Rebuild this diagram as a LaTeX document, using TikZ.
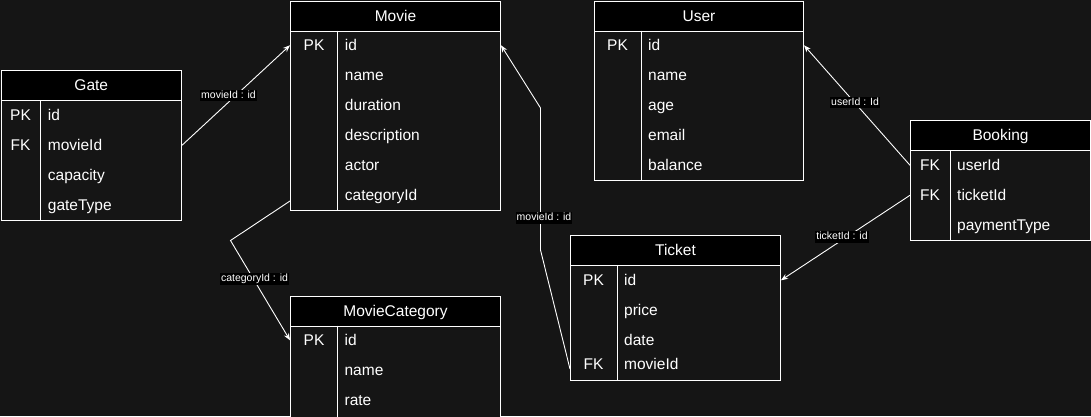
\documentclass[tikz,border=0pt]{standalone}
\usepackage{fontspec}
\setmainfont{Liberation Sans}
\usetikzlibrary{arrows.meta}
\definecolor{bgc}{HTML}{151515}
\tikzset{
 tline/.style={draw=white, line width=1pt},
 tbl/.style={tline, fill=bgc, anchor=north west, inner sep=0pt},
 hdr/.style={tline, fill=black, anchor=north west, inner sep=0pt, minimum height=30pt, text=white, text height=11.1pt, text depth=0.5pt, font=\fontsize{15.5}{18}\selectfont},
 keyt/.style={text=white, inner sep=0pt, anchor=base, yshift=-5.6pt, font=\fontsize{15.5}{18}\selectfont},
 attr/.style={text=white, anchor=base west, yshift=-5.6pt, inner sep=0pt, font=\fontsize{15.5}{18}\selectfont},
 conn/.style={draw=white!88, line width=0.9pt, -{Stealth[length=7pt,width=5.5pt]}},
 lbl/.style={fill=black, text=white, font=\fontsize{10.5}{12}\selectfont, text height=7.8pt, text depth=2pt, inner xsep=1pt, inner ysep=1pt},
}
\begin{document}
\begin{tikzpicture}[x=1pt,y=-1pt]
\fill[bgc] (0,0) rectangle (1091,416);
\useasboundingbox (0,0) rectangle (1091,416);
\clip (0,0) rectangle (1091,416);

% Gate
\node[tbl, minimum width=180.5pt, minimum height=150pt] (gate) at (0.5,70) {};
\node[hdr, minimum width=180.5pt] (gateh) at (0.5,70) {Gate};
\draw[tline] (40.7,100) -- (40.7,220);
\node[keyt] (gk1) at (20.5,115) {PK};
\node[keyt] (gk2) at (20.5,145) {FK};
\node[attr] (ga1) at (47.7,115) {id};
\node[attr] (ga2) at (47.7,145) {movieId};
\node[attr] (ga3) at (47.7,175) {capacity};
\node[attr] (ga4) at (47.7,205) {gateType};

% Movie
\node[tbl, minimum width=210pt, minimum height=209.5pt] (movie) at (290,0.5) {};
\node[hdr, minimum width=210pt] (movieh) at (290,0.5) {Movie};
\draw[tline] (337.7,30.5) -- (337.7,210);
\node[keyt] (mk1) at (314,45) {PK};
\node[attr] (ma1) at (344.7,45) {id};
\node[attr] (ma2) at (344.7,75) {name};
\node[attr] (ma3) at (344.7,105) {duration};
\node[attr] (ma4) at (344.7,135) {description};
\node[attr] (ma5) at (344.7,165) {actor};
\node[attr] (ma6) at (344.7,195) {categoryId};

% User
\node[tbl, minimum width=209pt, minimum height=179.5pt] (user) at (594,0.5) {};
\node[hdr, minimum width=209pt] (userh) at (594,0.5) {User};
\draw[tline] (641,30.5) -- (641,180);
\node[keyt] (uk1) at (617.5,45) {PK};
\node[attr] (ua1) at (648,45) {id};
\node[attr] (ua2) at (648,75) {name};
\node[attr] (ua3) at (648,105) {age};
\node[attr] (ua4) at (648,135) {email};
\node[attr] (ua5) at (648,165) {balance};

% Booking
\node[tbl, minimum width=180pt, minimum height=120pt] (booking) at (910,120) {};
\node[hdr, minimum width=180pt] (bookingh) at (910,120) {Booking};
\draw[tline] (950,150) -- (950,240);
\node[keyt] (bk1) at (930,165) {FK};
\node[keyt] (bk2) at (930,195) {FK};
\node[attr] (ba1) at (957,165) {userId};
\node[attr] (ba2) at (957,195) {ticketId};
\node[attr] (ba3) at (957,225) {paymentType};

% Ticket
\node[tbl, minimum width=210pt, minimum height=145pt] (ticket) at (570,235) {};
\node[hdr, minimum width=210pt] (ticketh) at (570,235) {Ticket};
\draw[tline] (617,265) -- (617,380);
\node[keyt] (tk1) at (593.5,280) {PK};
\node[keyt] (tk2) at (593.5,364) {FK};
\node[attr] (ta1) at (624,280) {id};
\node[attr] (ta2) at (624,310) {price};
\node[attr] (ta3) at (624,340) {date};
\node[attr] (ta4) at (624,364) {movieId};

% MovieCategory
\node[tbl, minimum width=210pt, minimum height=140pt] (mc) at (290,295.5) {};
\node[hdr, minimum width=210pt] (mch) at (290,295.5) {MovieCategory};
\draw[tline] (337.4,325.5) -- (337.4,436);
\node[keyt] (ck1) at (314,340) {PK};
\node[attr] (ca1) at (344.4,340) {id};
\node[attr] (ca2) at (344.4,370) {name};
\node[attr] (ca3) at (344.4,400) {rate};

% Connectors
\draw[conn] (gate.east |- gk2) -- (movie.west |- mk1)
  node[lbl, at={(228.5,95.5)}] {movieId : id};
\draw[conn] ([yshift=10pt]movie.south west) -- (230.5,240.5) -- (mc.west |- ck1)
  node[lbl, at={(254.5,279)}] {categoryId : id};
\draw[conn] ([yshift=12pt]ticket.south west) -- (540.5,250) -- (540.5,108) -- (movie.east |- mk1)
  node[lbl, at={(544,218)}] {movieId : id};
\draw[conn] (booking.west |- bk1) -- (user.east |- uk1)
  node[lbl, at={(855,102.5)}] {userId : Id};
\draw[conn] (booking.west |- bk2) -- (ticket.east |- tk1)
  node[lbl, at={(842,237)}] {ticketId : id};
\end{tikzpicture}
\end{document}
